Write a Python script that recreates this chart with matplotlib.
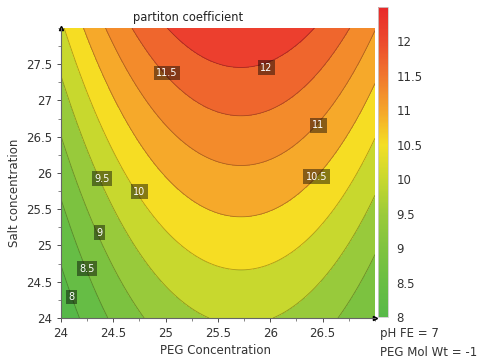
import numpy as np
import matplotlib.pyplot as plt
from matplotlib.colors import LinearSegmentedColormap, Normalize
import matplotlib as mpl

# contour crossings (PEG conc, salt conc, contour level)
peg = [25.72, 25.72, 25.72, 25.72, 25.72,
       24.02, 24.21, 24.45, 24.70, 25.01, 26.44, 26.75, 27.0,
       27.0, 27.0, 27.0, 27.0,
       24.17, 24.47, 24.80, 25.35, 26.09, 26.64,
       24.0, 24.0, 24.0, 24.0]
salt = [27.42, 26.75, 26.08, 25.45, 24.63,
        28.0, 28.0, 28.0, 28.0, 28.0, 28.0, 28.0, 28.0,
        27.24, 26.49, 25.72, 24.9,
        24.0, 24.0, 24.0, 24.0, 24.0, 24.0,
        24.69, 25.49, 26.49, 27.31]
level = [12, 11.5, 11, 10.5, 10,
         10, 10.5, 11, 11.5, 12, 12, 11.5, 11,
         10.5, 10, 9.5, 9,
         8, 8.5, 9, 9.5, 9.5, 9,
         8, 8.5, 9, 9.5]

# contour labels as placed on the chart
label_text = ['8', '8.5', '9', '9.5', '10', '10.5', '11', '11.5', '12']
label_peg = [24.10, 24.25, 24.365, 24.39, 24.75, 26.44, 26.46, 25.01, 25.96]
label_salt = [24.29, 24.68, 25.175, 25.92, 25.74, 25.95, 26.66, 27.38, 27.45]
label_level = [8, 8.5, 9, 9.5, 10, 10.5, 11, 11.5, 12]

contour_levels = [8, 8.5, 9, 9.5, 10, 10.5, 11, 11.5, 12]
x_ticks = [24, 24.5, 25, 25.5, 26, 26.5]
y_ticks = [24, 24.5, 25, 25.5, 26, 26.5, 27, 27.5]
cbar_ticks = [8, 8.5, 9, 9.5, 10, 10.5, 11, 11.5, 12]

# fit a response surface through the read points
px = np.array(peg + label_peg) - 25.5
py = np.array(salt + label_salt) - 26
pz = np.array(level + label_level, dtype=float)
A = np.column_stack([np.ones_like(px), px, py, px * py, px ** 2, py ** 2, px ** 2 * py])
coef = np.linalg.lstsq(A, pz, rcond=None)[0]

gx, gy = np.meshgrid(np.linspace(24, 27, 300), np.linspace(24, 28, 300))
dx, dy = gx - 25.5, gy - 26
Z = (coef[0] + coef[1] * dx + coef[2] * dy + coef[3] * dx * dy
     + coef[4] * dx ** 2 + coef[5] * dy ** 2 + coef[6] * dx ** 2 * dy)

band_colors = ['#56b848', '#66bd45', '#7cc240', '#98ca3b', '#c8d82e', '#f6dd23',
               '#f6a92a', '#f38b2b', '#ef662d', '#ec3f2e']
bounds = [0] + contour_levels + [100]

fig = plt.figure(figsize=(4.78, 3.64), dpi=100)
ax = fig.add_axes([0.1276, 0.1264, 0.6569, 0.7967])
ax.contourf(gx, gy, Z, levels=bounds, colors=band_colors)
ax.contour(gx, gy, Z, levels=contour_levels, colors='#000000', linewidths=0.6, alpha=0.3)

for t, lx, ly in zip(label_text, label_peg, label_salt):
    ax.text(lx, ly, t, ha='center', va='center', fontsize=7, color='white',
            bbox=dict(boxstyle='square,pad=0.25', fc='#000000', ec='none', alpha=0.45))

ax.set_xlim(24, 27)
ax.set_ylim(24, 28)
ax.set_xticks(x_ticks)
ax.set_xticklabels([('%g' % v) for v in x_ticks])
ax.set_yticks(y_ticks)
ax.set_yticklabels([('%g' % v) for v in y_ticks])
ax.set_xticks(np.arange(24, 27.01, 0.25), minor=True)
ax.set_yticks(np.arange(24, 28.01, 0.25), minor=True)
ax.tick_params(labelsize=8.5, colors='#333333', length=3, width=0.6)
ax.tick_params(which='minor', length=2, width=0.5, colors='#555555')
for s in ['top', 'right']:
    ax.spines[s].set_visible(False)
for s in ['left', 'bottom']:
    ax.spines[s].set_color('#666666')
    ax.spines[s].set_linewidth(0.8)
ax.plot(0, 1, '^', color='black', markersize=3, transform=ax.transAxes, clip_on=False)
ax.plot(1, 0, '>', color='black', markersize=3, transform=ax.transAxes, clip_on=False)

fig.text(188 / 478, 1 - 17 / 364, 'partiton coefficient', ha='center', va='center',
         fontsize=8.3, color='#222222')
fig.text(216 / 478, 1 - 351 / 364, 'PEG Concentration', ha='center', va='center',
         fontsize=8.5, color='#333333')
fig.text(15 / 478, 1 - 193 / 364, 'Salt concentration', ha='center', va='center',
         rotation=90, fontsize=8.5, color='#333333')

# colour bar
cmap = LinearSegmentedColormap.from_list('de', [
    (0.0, '#58b948'), (1 / 9, '#6abe44'), (2 / 9, '#80c33f'), (3 / 9, '#9ccb3a'),
    (4 / 9, '#c8d82e'), (5 / 9, '#f4df25'), (6 / 9, '#f5a52b'), (7 / 9, '#f0772e'),
    (8 / 9, '#ec4b2d'), (1.0, '#e8292a')])
cax = fig.add_axes([0.791, 0.129, 0.021, 0.852])
cb = fig.colorbar(mpl.cm.ScalarMappable(norm=Normalize(8, 12.5), cmap=cmap), cax=cax)
cb.set_ticks(cbar_ticks)
cb.set_ticklabels([('%g' % v) for v in cbar_ticks])
cb.outline.set_edgecolor('#cccccc')
cb.outline.set_linewidth(0.6)
cax.tick_params(labelsize=8.5, colors='#333333', length=0, pad=6)

fig.text(380 / 478, 1 - 333 / 364, 'pH FE = 7', ha='left', va='center', fontsize=8.5, color='#333333')
fig.text(380 / 478, 1 - 352 / 364, 'PEG Mol Wt = -1', ha='left', va='center', fontsize=8.5, color='#333333')

fig.savefig('out.png', dpi=100)
